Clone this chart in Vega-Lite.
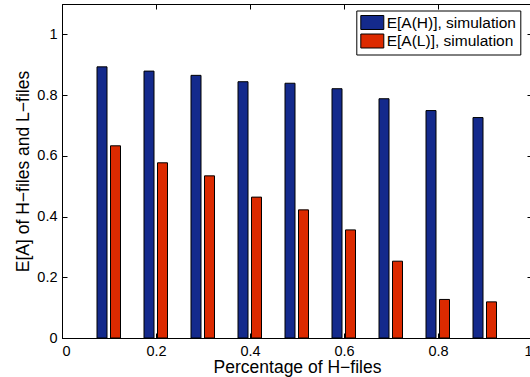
{
  "$schema": "https://vega.github.io/schema/vega-lite/v6.json",
  "autosize": "none",
  "width": 470,
  "height": 334,
  "padding": {"left": 62, "top": 4, "right": 0, "bottom": 39},
  "background": "white",
  "config": {
    "font": "Liberation Sans",
    "view": {"stroke": "black", "strokeWidth": 1},
    "axis": {
      "grid": false,
      "domainColor": "black",
      "tickColor": "black",
      "labelColor": "black",
      "titleColor": "black",
      "labelFont": "Liberation Sans",
      "titleFont": "Liberation Sans",
      "labelFontSize": 14.5,
      "titleFontSize": 17.5,
      "titleFontWeight": "normal",
      "tickSize": -5,
      "labelPadding": 10
    }
  },
  "data": {
    "values": [
      {"p": 0.1, "H": 0.893, "L": 0.633},
      {"p": 0.2, "H": 0.879, "L": 0.577},
      {"p": 0.3, "H": 0.865, "L": 0.534},
      {"p": 0.4, "H": 0.844, "L": 0.464},
      {"p": 0.5, "H": 0.839, "L": 0.422},
      {"p": 0.6, "H": 0.821, "L": 0.356},
      {"p": 0.7, "H": 0.788, "L": 0.253},
      {"p": 0.8, "H": 0.749, "L": 0.127},
      {"p": 0.9, "H": 0.726, "L": 0.119}
    ]
  },
  "layer": [
    {
      "mark": {"type": "bar", "width": 10, "xOffset": -7, "stroke": "black", "strokeWidth": 1},
      "encoding": {
        "x": {
          "field": "p", "type": "quantitative",
          "scale": {"domain": [0, 1], "nice": false, "zero": false, "padding": 0},
          "axis": {"orient": "bottom", "values": [0, 0.2, 0.4, 0.6, 0.8, 1], "format": "~g", "labelFontSize": 14.5, "labelPadding": 11, "title": "Percentage of H−files", "titleFontSize": 17.5, "titlePadding": 1}
        },
        "y": {
          "field": "H", "type": "quantitative",
          "scale": {"domain": [0, 1.1], "nice": false},
          "axis": {"orient": "left", "values": [0, 0.2, 0.4, 0.6, 0.8, 1], "format": "~g", "labelFontSize": 14.5, "title": "E[A] of H−files and L−files", "titleFontSize": 17.5, "titlePadding": 4}
        },
        "color": {
          "datum": "E[A(H)], simulation",
          "type": "nominal",
          "scale": {"domain": ["E[A(H)], simulation", "E[A(L)], simulation"], "range": ["#142a8c", "#dc2a00"]},
          "legend": {
            "title": null,
            "orient": "none",
            "legendX": 294.3,
            "legendY": 6.5,
            "strokeColor": "black",
            "fillColor": "white",
            "padding": 4,
            "symbolType": "M-1,-0.933H2.067V0.933H-1Z",
            "symbolSize": 225,
            "symbolStrokeColor": "black",
            "symbolStrokeWidth": 1,
            "symbolOpacity": 1,
            "labelFontSize": 15.5,
            "labelFont": "Liberation Sans",
            "labelColor": "black",
            "labelOffset": 10.4,
            "rowPadding": 0.5
          }
        }
      }
    },
    {
      "mark": {"type": "bar", "width": 10, "xOffset": 6.5, "stroke": "black", "strokeWidth": 1},
      "encoding": {
        "x": {
          "field": "p", "type": "quantitative",
          "axis": {"orient": "top", "values": [0, 0.2, 0.4, 0.6, 0.8, 1], "labels": false, "title": null, "domain": false}
        },
        "y": {
          "field": "L", "type": "quantitative",
          "axis": {"orient": "right", "values": [0, 0.2, 0.4, 0.6, 0.8, 1], "labels": false, "title": null, "domain": false}
        },
        "color": {"datum": "E[A(L)], simulation", "type": "nominal"}
      }
    }
  ],
  "resolve": {"axis": {"x": "independent", "y": "independent"}}
}
